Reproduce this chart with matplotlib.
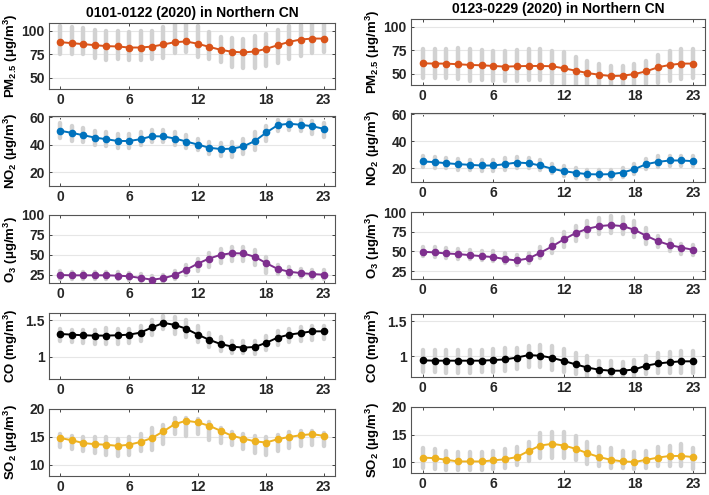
import numpy as np
import matplotlib
matplotlib.use('Agg')
import matplotlib.pyplot as plt

plt.rcParams['font.family'] = ['Liberation Sans', 'DejaVu Sans']
plt.rcParams['font.weight'] = 'bold'
plt.rcParams['mathtext.fontset'] = 'custom'
plt.rcParams['mathtext.bf'] = 'Liberation Sans:bold'
plt.rcParams['mathtext.rm'] = 'Liberation Sans:bold'
plt.rcParams['mathtext.default'] = 'bf'

hours = np.arange(24)
xtick_vals = [0, 6, 12, 18, 23]
titles = ['0101-0122 (2020) in Northern CN', '0123-0229 (2020) in Northern CN']

# left column: 0101-0122
pm25_l = [87.7, 86.6, 85.6, 84.5, 83.5, 83.1, 82, 82, 83, 85.2, 87.7, 88.4, 86, 82.7, 79.6, 77.5, 76.8, 77.8, 80.6, 84.5, 88, 90.5, 91.5, 91.5]
pm25_l_lo = [74.6, 75, 75, 71, 69, 70, 68.7, 69, 70, 71, 76, 77, 72, 70, 66.5, 61, 60.6, 60, 62, 66, 70, 73, 76, 77]
pm25_l_hi = [105, 103.5, 103, 101, 100, 99, 98, 99, 100, 104, 107, 108, 104.5, 98, 93, 92, 91.5, 94, 96.5, 101, 104.5, 106, 107, 107]
no2_l = [50.2, 48.7, 47, 45.3, 44.1, 42.8, 42.8, 44.1, 46.3, 46.1, 44.6, 42.4, 40.2, 37.9, 36.9, 37.2, 38.9, 42.8, 49, 54.4, 55.4, 54.6, 53.6, 51.7]
no2_l_lo = [45, 43, 42, 40, 39, 38, 38, 40, 42, 42, 40, 38, 36, 33, 32, 31, 33, 36, 43, 50, 51, 50, 48, 46]
no2_l_hi = [56, 54, 52, 50, 49, 48, 48, 49, 51, 51, 49, 47, 44, 42, 41, 42, 44, 49, 54, 58, 58, 58, 57, 56]
o3_l = [25, 24.6, 24.6, 24.6, 24.6, 24.2, 23.4, 21.3, 19.2, 20.9, 25, 31.6, 39.2, 45.6, 50.2, 52.3, 51.9, 47.7, 39.7, 32.5, 29.1, 27.4, 26.2, 25.4]
o3_l_lo = [20, 20, 20, 20, 20, 20, 19, 17, 15, 16, 20, 25, 30, 35, 40, 42, 42, 38, 28, 26, 23, 22, 21, 20]
o3_l_hi = [30, 29, 29, 29, 29, 29, 28, 26, 24, 25, 30, 37, 45, 52, 58, 60, 60, 56, 48, 38, 35, 32, 31, 31]
co_l = [1.314, 1.305, 1.296, 1.292, 1.292, 1.296, 1.305, 1.332, 1.403, 1.465, 1.438, 1.385, 1.305, 1.235, 1.177, 1.142, 1.128, 1.137, 1.195, 1.265, 1.305, 1.327, 1.35, 1.35]
co_l_lo = [1.22, 1.2, 1.19, 1.18, 1.18, 1.18, 1.19, 1.22, 1.3, 1.38, 1.32, 1.27, 1.2, 1.14, 1.08, 1.06, 1.05, 1.04, 1.1, 1.16, 1.2, 1.22, 1.23, 1.24]
co_l_hi = [1.38, 1.37, 1.37, 1.37, 1.4, 1.38, 1.38, 1.42, 1.5, 1.56, 1.55, 1.5, 1.42, 1.33, 1.27, 1.22, 1.22, 1.22, 1.29, 1.35, 1.38, 1.41, 1.42, 1.42]
so2_l = [14.8, 14.4, 13.9, 13.7, 13.6, 13.4, 13.6, 14.1, 14.8, 16, 17.3, 17.9, 17.6, 17, 16.1, 15.2, 14.7, 14.2, 14, 14.6, 15, 15.3, 15.5, 15.2]
so2_l_lo = [13.2, 12.9, 12.5, 12.2, 11.8, 11.6, 11.8, 12.4, 12.6, 13.8, 15.5, 15.2, 15.5, 14.5, 14, 13.5, 12.8, 12.2, 11.8, 12.4, 13, 13.4, 13.6, 13.4]
so2_l_hi = [15.5, 15.2, 15, 15, 15, 14.7, 15, 15.5, 16.6, 17.1, 18.3, 18.3, 18.2, 17.6, 16.6, 15.9, 15.6, 15.2, 14.9, 15.4, 15.8, 16, 16, 15.7]

# right column: 0123-0229
pm25_r = [61, 60.7, 60.7, 60, 59.3, 58.9, 58.2, 57.5, 57.9, 58.2, 58.2, 57.9, 55.7, 53.2, 50.7, 48.9, 47.5, 47.9, 49.6, 52.5, 56.8, 59.3, 60.7, 60.7]
pm25_r_lo = [45.7, 45.7, 45, 43.9, 42, 42.9, 42, 42, 42, 42.9, 42.9, 40.4, 38.6, 38, 37, 37, 37, 37, 37, 38.6, 40.4, 42, 43.9, 45]
pm25_r_hi = [76, 76, 76, 76.8, 75.7, 75.4, 74.3, 74.3, 75, 76, 76, 74.3, 72.5, 67.9, 63, 60, 58, 58.6, 60, 63.6, 69.6, 73.6, 76, 76]
no2_r = [25.2, 24.7, 23.9, 23.2, 22.7, 22.2, 22.2, 23.2, 24.4, 23.9, 22.2, 19.8, 18, 16.8, 15.8, 15.6, 15.8, 17, 19.5, 23.2, 24.9, 25.9, 25.9, 25.4]
no2_r_lo = [21, 20.5, 20, 19, 18.5, 18, 18, 19, 20, 20, 18.5, 16.5, 14.5, 13, 12.5, 12, 12.5, 13.5, 16, 19.5, 21, 22, 22, 21.5]
no2_r_hi = [29, 28.5, 28, 27, 26.5, 26, 26.5, 27.5, 28.5, 28, 26, 23.5, 21.5, 20, 19, 19, 19, 20.5, 23, 27, 29, 29.5, 29.5, 29]
o3_r = [49.6, 48.7, 47.4, 46.6, 45.3, 44, 42.8, 40.2, 38.5, 41.1, 48.3, 56.4, 65.3, 73.3, 78.7, 82.1, 83.4, 82.1, 77.4, 69.8, 63, 58.1, 54.9, 52]
o3_r_lo = [44, 43, 42, 41, 40, 39, 38, 35, 33, 35, 42, 48, 55, 63, 68, 72, 73, 72, 68, 60, 55, 50, 47, 45]
o3_r_hi = [56, 55, 54, 53, 52, 51, 50, 48, 45, 48, 55, 66, 75, 82, 88, 93, 95, 94, 88, 80, 70, 65, 60, 58]
co_r = [0.938, 0.933, 0.933, 0.933, 0.933, 0.933, 0.942, 0.951, 0.978, 1.013, 1.004, 0.973, 0.929, 0.88, 0.835, 0.804, 0.79, 0.79, 0.808, 0.862, 0.893, 0.911, 0.924, 0.924]
co_r_lo = [0.77, 0.77, 0.76, 0.76, 0.76, 0.77, 0.77, 0.79, 0.82, 0.85, 0.85, 0.8, 0.77, 0.75, 0.72, 0.7, 0.7, 0.7, 0.71, 0.75, 0.76, 0.76, 0.76, 0.76]
co_r_hi = [1.09, 1.09, 1.09, 1.09, 1.09, 1.09, 1.1, 1.11, 1.12, 1.15, 1.16, 1.14, 1.1, 1.05, 1.0, 0.93, 0.93, 0.92, 0.95, 1.0, 1.05, 1.06, 1.07, 1.07]
so2_r = [10.8, 10.7, 10.4, 10.1, 10.1, 10.1, 10.3, 10.5, 10.9, 12, 13, 13.3, 13, 12.4, 11.6, 10.9, 10.4, 10.1, 10, 10.4, 10.8, 11.1, 11.1, 10.9]
so2_r_lo = [9, 8.8, 8.6, 8.5, 8.5, 8.6, 8.8, 9, 9.4, 10.2, 10.8, 10.7, 10.8, 10.4, 9.7, 9.2, 9, 8.9, 8.8, 9, 9.2, 9.3, 9.3, 8.7]
so2_r_hi = [12.5, 12.3, 12, 11.8, 11.8, 11.8, 12, 12.3, 12.8, 13.7, 15.2, 15.5, 15.5, 14.8, 13.7, 12.8, 12.5, 12, 11.8, 12, 12.8, 13, 13.2, 12.6]

labels = [r'PM$_{2.5}$ (μg/m$^3$)', r'NO$_2$ (μg/m$^3$)', r'O$_3$ (μg/m$^3$)',
          r'CO (mg/m$^3$)', r'SO$_2$ (μg/m$^3$)']
colors = ['#D95319', '#0072BD', '#7E2F8E', '#000000', '#EDB120']
ylims = [(38, 108), (10, 61), (15, 100), (0.7, 1.6), (8, 20)]
yticks = [[50, 75, 100], [20, 40, 60], [25, 50, 75, 100], [1, 1.5], [10, 15, 20]]
yticklabels = [['50', '75', '100'], ['20', '40', '60'], ['25', '50', '75', '100'],
               ['1', '1.5'], ['10', '15', '20']]

left_data = [(pm25_l, pm25_l_lo, pm25_l_hi), (no2_l, no2_l_lo, no2_l_hi),
             (o3_l, o3_l_lo, o3_l_hi), (co_l, co_l_lo, co_l_hi),
             (so2_l, so2_l_lo, so2_l_hi)]
right_data = [(pm25_r, pm25_r_lo, pm25_r_hi), (no2_r, no2_r_lo, no2_r_hi),
              (o3_r, o3_r_lo, o3_r_hi), (co_r, co_r_lo, co_r_hi),
              (so2_r, so2_r_lo, so2_r_hi)]

W, H = 709., 495.
# pixel boxes (left, right, top, bottom)
left_boxes = [(49, 335, 23, 89), (49, 335, 116, 186), (49, 335, 215, 283),
              (49, 335, 313, 379), (49, 335, 409, 476)]
right_boxes = [(411, 705, 19, 85), (411, 705, 113, 182), (411, 705, 212, 279),
               (411, 705, 314, 377), (411, 705, 407, 473)]
label_x = [11, 373]  # pixel x of the y-label centre in each column

fig = plt.figure(figsize=(7.09, 4.95), dpi=100)

def draw_panel(box, series, i, lx, title=None):
    x0, x1, t, b = box
    ax = fig.add_axes([x0 / W, 1 - b / H, (x1 - x0) / W, (b - t) / H])
    mean, lo, hi = series
    ax.vlines(hours, lo, hi, color='#d2d2d2', linewidth=3.2, capstyle='round', zorder=2)
    ax.plot(hours, mean, '-o', color=colors[i], markersize=4.5, linewidth=1.4, zorder=3)
    ax.set_xlim(-1, 24)
    ax.set_ylim(*ylims[i])
    ax.set_xticks(xtick_vals)
    ax.set_xticklabels([str(v) for v in xtick_vals])
    ax.set_yticks(yticks[i])
    ax.set_yticklabels(yticklabels[i])
    ax.yaxis.grid(True, color='#e6e6e6', linewidth=0.8, zorder=0)
    ax.set_axisbelow(True)
    ax.tick_params(direction='in', length=2.5, labelsize=10, colors='#262626',
                   top=True, right=True, width=0.6, pad=3)
    for s in ax.spines.values():
        s.set_color('#555555')
        s.set_linewidth(0.8)
    ax.set_ylabel(labels[i], fontsize=9.5, fontweight='bold', va='center')
    ax.yaxis.set_label_coords((lx - x0) / (x1 - x0), 0.5)
    if title:
        ax.set_title(title, fontsize=10, fontweight='bold', pad=4)
    return ax

for i in range(5):
    draw_panel(left_boxes[i], left_data[i], i, label_x[0], titles[0] if i == 0 else None)
    draw_panel(right_boxes[i], right_data[i], i, label_x[1], titles[1] if i == 0 else None)

fig.savefig('out.png', dpi=100)
